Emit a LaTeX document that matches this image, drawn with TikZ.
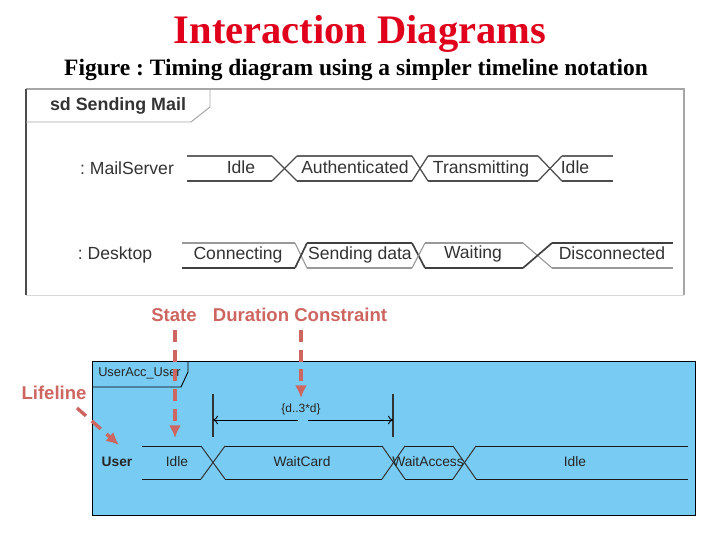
\documentclass[tikz,border=0pt]{standalone}
\usepackage{fontspec}
\usetikzlibrary{arrows.meta}
\setmainfont{Liberation Serif}
\setsansfont{Liberation Sans}
\frenchspacing
\definecolor{skyfill}{HTML}{78CBF3}
\definecolor{notered}{HTML}{CD6660}
\definecolor{titlered}{HTML}{E0001B}
\tikzset{
	title/.style={font=\rmfamily\bfseries\fontsize{28.8}{32}\selectfont,text=titlered,inner sep=0pt},
	subtitle/.style={font=\rmfamily\bfseries\fontsize{16.7}{20}\selectfont,inner sep=0pt},
	mail/.style={font=\sffamily\fontsize{12.5}{14}\selectfont,text=black!80,inner sep=0pt,text height=10pt,text depth=2pt},
	user/.style={font=\sffamily\fontsize{9.8}{12}\selectfont,text=black!85,inner sep=0pt,text height=7pt,text depth=2pt},
	note/.style={font=\sffamily\bfseries\fontsize{13.2}{16}\selectfont,text=notered,inner sep=0pt},
	hi/.style={black!40,line width=0.8pt},
	lo/.style={black!75,line width=1.2pt},
	noteline/.style={notered,line width=2.4pt,dash pattern=on 8.5pt off 5.5pt,-{Latex[length=9pt,width=8.5pt]}}
}
\begin{document}
\begin{tikzpicture}[x=0.025cm,y=-0.025cm]
	\useasboundingbox (0,0) rectangle (720,540);
	% Titles
	\node[title] (head) at (360,34) {Interaction Diagrams};
	\node[subtitle] (sub) at (356,70) {Figure : Timing diagram using a simpler timeline notation};
	% Upper frame
	\draw[black!35,line width=0.8pt] (26,89) -- (684,89) -- (684,295);
	\draw[black!15,line width=0.6pt] (26,295) -- (684,295);
	\draw[black!70,line width=1.1pt] (26,89) -- (26,295);
	\draw[black!35,line width=0.7pt] (26,122) -- (191,122) -- (210,107) -- (210,89);
	\node[mail,font=\sffamily\bfseries\fontsize{12.7}{14}\selectfont] (frameMail) at (118,105) {sd Sending Mail};
	% MailServer
	\node[mail] (server) at (127,169) {: MailServer};
	\foreach \xa/\xb in {187/272,297/412,428/538,562/613} {
		\draw[black!60,line width=0.9pt] (\xa,156) -- (\xb,156);
		\draw[black!70,line width=1.1pt] (\xa,181) -- (\xb,181);
	}
	\foreach \xa/\xb in {272/297,412/428,538/562} {
		\draw[black!70,line width=0.9pt] (\xa,156) -- (\xb,181);
		\draw[black!70,line width=0.9pt] (\xa,181) -- (\xb,156);
	}
	\node[mail] (idleA) at (241,168) {Idle};
	\node[mail] (auth) at (355,168) {Authenticated};
	\node[mail] (trans) at (481,168) {Transmitting};
	\node[mail] (idleB) at (575,168) {Idle};
	% Desktop
	\node[mail] (desk) at (115,254) {: Desktop};
	\foreach \xa/\xb/\top/\bot in {182/295/hi/lo,307/412/lo/hi,425/523/hi/lo,552/673/lo/hi} {
		\draw[\top] (\xa,243) -- (\xb,243);
		\draw[\bot] (\xa,268) -- (\xb,268);
	}
	\draw[hi] (295,243) -- (307,268);
	\draw[lo] (295,268) -- (307,243);
	\draw[lo] (412,243) -- (425,268);
	\draw[hi] (412,268) -- (425,243);
	\draw[hi] (523,243) -- (552,268);
	\draw[lo] (523,268) -- (552,243);
	\node[mail] (conn) at (238,254) {Connecting};
	\node[mail] (send) at (360,254) {Sending data};
	\node[mail] (wait) at (473,253) {Waiting};
	\node[mail] (disc) at (612,254) {Disconnected};
	% Lower frame
	\draw[black,fill=skyfill,line width=0.65pt] (92,361) rectangle (695,515);
	\draw[black,line width=0.65pt] (92,387) -- (181,387) -- (188,372) -- (188,361);
	\node[user,font=\sffamily\fontsize{9.1}{12}\selectfont] (frameUser) at (139.5,373) {UserAcc\_User};
	% User timeline
	\node[user,font=\sffamily\bfseries\fontsize{9.8}{12}\selectfont] (user) at (117,463) {User};
	\foreach \xa/\xb in {142/201,225/382,405/453,476/688} {
		\draw[black!90,line width=0.7pt] (\xa,446) -- (\xb,446);
		\draw[black!90,line width=0.7pt] (\xa,479) -- (\xb,479);
	}
	\foreach \xa/\xb in {201/225,382/405,453/476} {
		\draw[black!80,line width=0.7pt] (\xa,446) -- (\xb,479);
		\draw[black!80,line width=0.7pt] (\xa,479) -- (\xb,446);
	}
	\node[user] (idleC) at (177,463) {Idle};
	\node[user] (card) at (302,463) {WaitCard};
	\node[user] (access) at (428,463) {WaitAccess};
	\node[user] (idleD) at (575,463) {Idle};
	% Duration
	\coordinate (durL) at (213,420);
	\coordinate (durR) at (393,420);
	\coordinate (gapL) at (298,420);
	\coordinate (gapR) at (308,420);
	\draw[black!80,line width=0.9pt] (213,394) -- (213,437);
	\draw[black!80,line width=0.9pt] (393,394) -- (393,437);
	\draw[-{To[length=3.5pt,width=6pt]},line width=0.6pt] (gapL) -- (durL);
	\draw[-{To[length=3.5pt,width=6pt]},line width=0.6pt] (gapR) -- (durR);
	\node[user,font=\sffamily\fontsize{8.5}{10}\selectfont] (dur) at (301,409) {\{d..3*d\}};
	% Notes
	\node[note] (noteState) at (174,315) {State};
	\node[note] (noteDur) at (300,315) {Duration Constraint};
	\node[note] (noteLife) at (54,393) {Lifeline};
	\coordinate (tipState) at (175,438);
	\coordinate (tipDur) at (301,398);
	\coordinate (tipLife) at (119,445);
	\coordinate (startState) at (175,330);
	\coordinate (startDur) at (301,330);
	\coordinate (startLife) at (77,408);
	\draw[noteline] (startState) -- (tipState);
	\draw[noteline] (startDur) -- (tipDur);
	\draw[noteline] (startLife) -- (tipLife);
\end{tikzpicture}
\end{document}
